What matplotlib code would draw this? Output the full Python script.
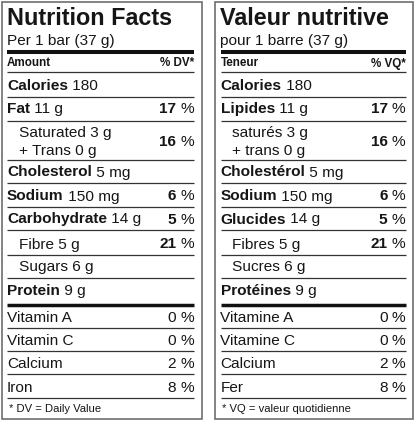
import matplotlib
matplotlib.use("Agg")
import matplotlib.pyplot as plt

# ---------------- data ----------------
titles = ["Nutrition Facts", "Valeur nutritive"]
servings = ["Per 1 bar (37 g)", "pour 1 barre (37 g)"]
header_left = ["Amount", "Teneur"]
header_right = ["% DV*", "% VQ*"]
main_labels_en = ["Calories", "Fat", "Saturated", "Cholesterol", "Sodium",
                  "Carbohydrate", "Fibre", "Sugars", "Protein"]
main_labels_fr = ["Calories", "Lipides", "saturés", "Cholestérol", "Sodium",
                  "Glucides", "Fibres", "Sucres", "Protéines"]
main_amounts = ["180", "11 g", "3 g", "5 mg", "150 mg", "14 g", "5 g", "6 g", "9 g"]
main_dv = [None, 17, 16, None, 6, 5, 21, None, None]
main_indent = [False, False, True, False, False, False, True, True, False]
trans_labels = ["+ Trans 0 g", "+ trans 0 g"]
vit_labels_en = ["Vitamin A", "Vitamin C", "Calcium", "Iron"]
vit_labels_fr = ["Vitamine A", "Vitamine C", "Calcium", "Fer"]
vit_dv = [0, 0, 2, 8]
footnotes = ["* DV = Daily Value", "* VQ = valeur quotidienne"]

# ---------------- layout ----------------
W, H = 416, 421
FONT = "Liberation Sans"
TXT = "#161616"
panels = [(1.5, 201.5), (215.0, 413.0)]
margin = 6.5
indent = 18.5
main_bottoms = [97, 121, 160, 183, 207, 230, 255, 278, 303]
vit_bottoms = [328, 351, 374, 398]

fig = plt.figure(figsize=(W / 100, H / 100), dpi=100)
ax = fig.add_axes([0, 0, 1, 1])
ax.set_xlim(0, W)
ax.set_ylim(H, 0)
ax.axis("off")
renderer = fig.canvas.get_renderer()

BODY = 11.1


def width(t):
    return t.get_window_extent(renderer=renderer).width


def two_part(x, y, bold, regular, size=BODY):
    t = ax.text(x, y, bold, fontsize=size, fontweight="bold", family=FONT,
                color=TXT, va="baseline", ha="left")
    if regular:
        x2 = x + width(t)
        ax.text(x2, y, " " + regular, fontsize=size, family=FONT, color=TXT,
                va="baseline", ha="left")


def pct(xr, y, val, bold=True):
    ax.text(xr, y, "%", fontsize=BODY, family=FONT, color=TXT,
            va="baseline", ha="right")
    ax.text(xr - 18, y, str(val), fontsize=BODY, family=FONT, color=TXT,
            fontweight="bold" if bold else "normal", va="baseline", ha="right")


def hline(x0, x1, y, lw, color):
    ax.plot([x0, x1], [y, y], color=color, lw=lw, solid_capstyle="butt")


for p, (px0, px1) in enumerate(panels):
    labels = main_labels_en if p == 0 else main_labels_fr
    x0 = px0 + margin - 1
    x1 = px1 - margin - 1
    # border
    ax.add_patch(plt.Rectangle((px0, 1.5), px1 - px0, 417, fill=False,
                               edgecolor="#6e6e6e", lw=1.2))
    # title and serving
    ax.text(x0, 25, titles[p], fontsize=16.8, fontweight="bold", family=FONT,
            color=TXT, va="baseline", ha="left")
    ax.text(x0, 44.5, servings[p], fontsize=BODY, family=FONT, color=TXT,
            va="baseline", ha="left")
    hline(x0, x1, 52, 2.9, "#111111")
    ax.text(x0, 66.5, header_left[p], fontsize=8.4, fontweight="bold",
            family=FONT, color=TXT, va="baseline", ha="left")
    ax.text(x1, 66.5, header_right[p], fontsize=8.4, fontweight="bold",
            family=FONT, color=TXT, va="baseline", ha="right")
    hline(x0, x1, 72, 0.9, "#333333")

    for i, lab in enumerate(labels):
        yb = main_bottoms[i]
        if main_indent[i]:
            if i == 2:
                ax.text(x0 + indent - 6.5, yb - 23, lab + " " + main_amounts[i],
                        fontsize=BODY, family=FONT, color=TXT, va="baseline")
                ax.text(x0 + indent - 6.5, yb - 5, trans_labels[p],
                        fontsize=BODY, family=FONT, color=TXT, va="baseline")
                pct(x1, yb - 14, main_dv[i])
            else:
                ax.text(x0 + indent - 6.5, yb - 6.5, lab + " " + main_amounts[i],
                        fontsize=BODY, family=FONT, color=TXT, va="baseline")
                if main_dv[i] is not None:
                    pct(x1, yb - 6.5, main_dv[i])
        else:
            two_part(x0, yb - 6.5 - (1.5 if i == 1 else 0) - (1.5 if i == 8 else 0),
                     lab, main_amounts[i])
            if main_dv[i] is not None:
                pct(x1, yb - 6.5 - (1.5 if i == 1 else 0), main_dv[i])
        if i < len(labels) - 1:
            hline(x0, x1, yb, 0.9, "#333333")
    hline(x0, x1, 305, 2.5, "#111111")

    vl = vit_labels_en if p == 0 else vit_labels_fr
    for i, lab in enumerate(vl):
        yb = vit_bottoms[i]
        ax.text(x0, yb - 6.3, lab, fontsize=BODY, family=FONT, color=TXT,
                va="baseline", ha="left")
        pct(x1, yb - 6.3, vit_dv[i], bold=False)
        hline(x0, x1, yb, 0.9, "#333333")
    ax.text(x0 + 2, 412.5, footnotes[p], fontsize=8.1, family=FONT, color=TXT,
            va="baseline", ha="left")

fig.savefig("out.png", dpi=100)
